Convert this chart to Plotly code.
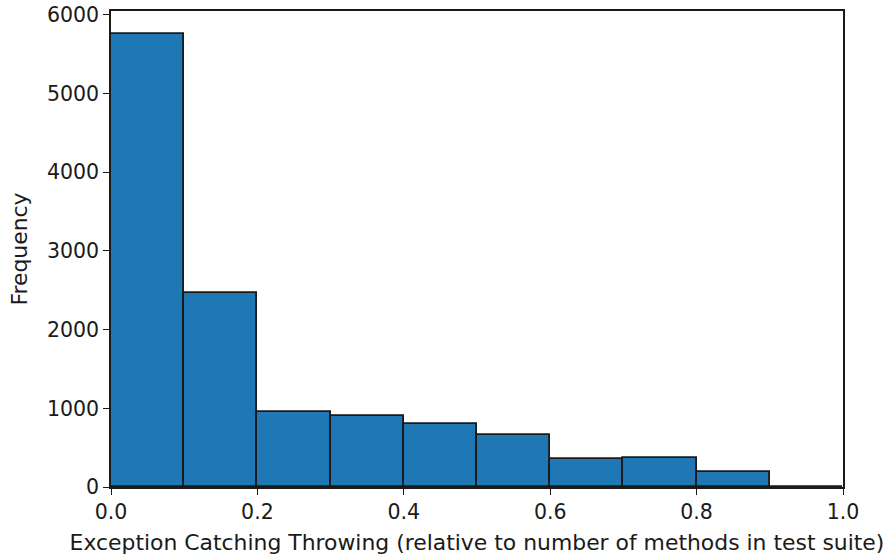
import plotly.graph_objects as go

# Histogram bins (left edges) and counts
bin_left = [0.0, 0.1, 0.2, 0.3, 0.4, 0.5, 0.6, 0.7, 0.8, 0.9]
bin_width = 0.1
counts = [5755, 2470, 950, 906, 805, 661, 356, 365, 195, 5]

x_ticks = [0.0, 0.2, 0.4, 0.6, 0.8, 1.0]
y_ticks = [0, 1000, 2000, 3000, 4000, 5000, 6000]

centers = [b + bin_width / 2 for b in bin_left]

fig = go.Figure(
    go.Bar(
        x=centers,
        y=counts,
        width=[bin_width] * len(bin_left),
        marker=dict(color="#1f77b4", line=dict(color="#1a1a1a", width=1.8)),
        hoverinfo="x+y",
    )
)

tick_font = dict(family="DejaVu Sans", size=20.5, color="#1a1a1a")
label_font = dict(family="DejaVu Sans", size=21.9, color="#1a1a1a")

fig.update_layout(
    width=890,
    height=559,
    margin=dict(l=111, r=47, t=11, b=72),
    paper_bgcolor="white",
    plot_bgcolor="white",
    bargap=0,
    showlegend=False,
    font=tick_font,
)

axis_common = dict(
    showline=True,
    linecolor="#1a1a1a",
    linewidth=1.5,
    mirror=True,
    showgrid=False,
    zeroline=False,
    ticks="outside",
    ticklen=6,
    tickwidth=1.4,
    tickcolor="#1a1a1a",
    tickfont=tick_font,
    automargin=False,
)

fig.update_xaxes(
    range=[0, 1],
    tickvals=x_ticks,
    tickformat=".1f",
    title=dict(text="Exception Catching Throwing (relative to number of methods in test suite)",
               font=label_font, standoff=11),
    **axis_common,
)
fig.update_yaxes(
    range=[0, 6050],
    tickvals=y_ticks,
    title=dict(text="Frequency", font=label_font, standoff=13),
    **axis_common,
)

fig.write_html("out.html")
